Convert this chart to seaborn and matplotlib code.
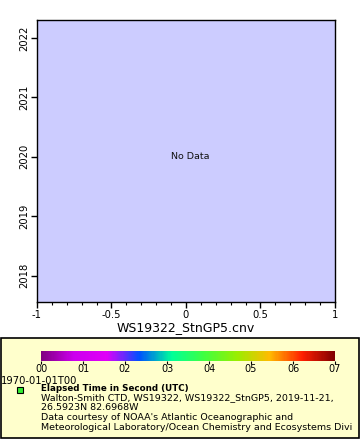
import matplotlib
matplotlib.use("Agg")
import matplotlib.pyplot as plt
import matplotlib.colors as mcolors
import matplotlib.colorbar as mcolorbar
from matplotlib.patches import Rectangle
from matplotlib.lines import Line2D
import seaborn as sns
import pandas as pd

# ---- data (the dataset has no points) ----
x_values = []          # no data
time_values = []       # no data
x_ticks = [-1, -0.5, 0, 0.5, 1]
x_tick_labels = ["-1", "-0.5", "0", "0.5", "1"]
y_ticks = [2018, 2019, 2020, 2021, 2022]
y_tick_labels = ["2018", "2019", "2020", "2021", "2022"]
cbar_ticks = [0, 1, 2, 3, 4, 5, 6, 7]
cbar_tick_labels = ["00", "01", "02", "03", "04", "05", "06", "07"]
cbar_colors = ["#800080", "#cc00ee", "#e000f8", "#0050ff", "#00ff99", "#40ff40",
               "#99ee00", "#ffbb00", "#ff2000", "#800000"]
title = "WS19322_StnGP5.cnv"
legend_title = "Elapsed Time in Second (UTC)"
legend_lines = ["Walton-Smith CTD, WS19322, WS19322_StnGP5, 2019-11-21,",
                "26.5923N 82.6968W",
                "Data courtesy of NOAA's Atlantic Oceanographic and",
                "Meteorological Laboratory/Ocean Chemistry and Ecosystems Divi"]

sns.set_style("ticks")
plt.rcParams["font.family"] = ["DejaVu Sans"]
plt.rcParams["text.color"] = "black"
plt.rcParams["axes.labelcolor"] = "black"
plt.rcParams["xtick.color"] = "black"
plt.rcParams["ytick.color"] = "black"

W, H = 360, 440
fig = plt.figure(figsize=(W / 100, H / 100), dpi=100)
fig.patch.set_facecolor("white")

def fx(px):
    return px / W

def fy(py):
    return 1 - py / H

# legend box (behind everything)
box = Rectangle((fx(1), fy(438)), fx(358), (438 - 338) / H, transform=fig.transFigure,
                facecolor="#ffffcc", edgecolor="black", linewidth=1.2, zorder=-10)
fig.patches.append(box)

# main axes
L, R, T, B = 37, 335, 20, 302
ax = fig.add_axes([fx(L), fy(B), fx(R - L), (B - T) / H])
ax.set_facecolor("#ccccff")
df = pd.DataFrame({"x": pd.Series(x_values, dtype=float),
                   "t": pd.Series(time_values, dtype=float)})
sns.scatterplot(data=df, x="x", y="t", ax=ax)
ax.set_xlim(-1, 1)
ax.set_ylim(2017.56, 2022.30)
ax.set_xticks(x_ticks)
ax.set_xticklabels(x_tick_labels, fontsize=7.2)
ax.set_xticks([i / 10 for i in range(-10, 11)], minor=True)
ax.set_yticks(y_ticks)
ax.set_yticklabels(y_tick_labels, fontsize=7.2, rotation=90, va="center")
ax.tick_params(axis="both", which="major", length=4, width=1, pad=1.5)
ax.tick_params(axis="x", which="minor", length=2.5, width=0.8)
ax.tick_params(axis="y", which="minor", length=0)
ax.set_xlabel(title, fontsize=9, labelpad=1)
ax.set_ylabel("")
for s in ax.spines.values():
    s.set_visible(True)
    s.set_linewidth(1)
    s.set_color("black")
ax.text(0.03, 2020.0, "No Data", ha="center", va="center", fontsize=6.8, color="#111111")

# colorbar
cax = fig.add_axes([fx(41), fy(361), fx(294), 10 / H])
cmap = mcolors.LinearSegmentedColormap.from_list("erddap_rainbow", cbar_colors)
norm = mcolors.Normalize(vmin=cbar_ticks[0], vmax=cbar_ticks[-1])
cb = mcolorbar.ColorbarBase(cax, cmap=cmap, norm=norm, orientation="horizontal")
cb.set_ticks(cbar_ticks)
cb.set_ticklabels(cbar_tick_labels)
cb.outline.set_visible(False)
cax.tick_params(length=2, width=0.8, labelsize=7, pad=0, color="black")

fig.text(fx(1), fy(380.5), "1970-01-01T00", fontsize=7.2, ha="left", va="center")

# legend marker and text
fig.lines.append(Line2D([fx(20)], [fy(390)], transform=fig.transFigure, marker="s",
                        markersize=4.5, markerfacecolor="#33ee33",
                        markeredgecolor="black", markeredgewidth=0.8, linestyle="none"))
fig.text(fx(41), fy(388.5), legend_title, fontsize=6.3,
         fontweight="bold", ha="left", va="center")
fig.text(fx(41), fy(393), "\n".join(legend_lines[:2]), fontsize=6.8,
         ha="left", va="top", linespacing=1.15)
fig.text(fx(41), fy(412.5), "\n".join(legend_lines[2:]), fontsize=6.8,
         ha="left", va="top", linespacing=1.2)

fig.savefig("out.png", dpi=100)
